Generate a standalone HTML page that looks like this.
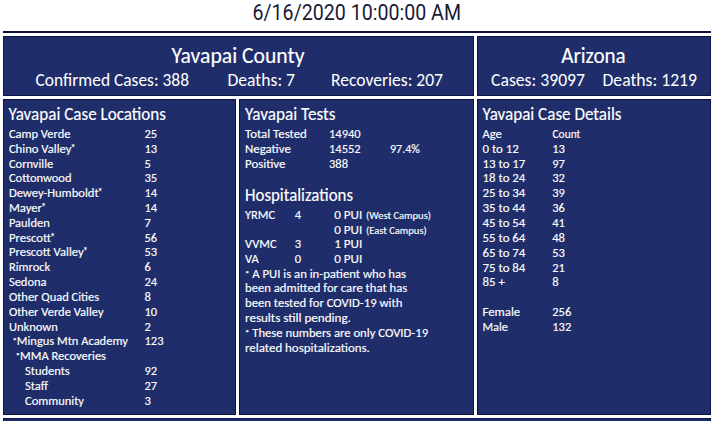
<!DOCTYPE html>
<html><head><meta charset="utf-8"><title>COVID-19 Yavapai County</title>
<style>
html,body{margin:0;padding:0;background:#ffffff;width:715px;height:421px;overflow:hidden}
svg{display:block}
text{font-family:Carlito, 'Liberation Sans', sans-serif}
</style></head>
<body>
<svg width="715" height="421" viewBox="0 0 715 421">
<rect x="0" y="0" width="715" height="421" fill="#ffffff"/>
<rect x="3" y="31" width="708" height="2" fill="#0e1238"/>
<rect x="3" y="36" width="471" height="60" fill="#0c1444"/>
<rect x="4" y="37" width="469" height="58" fill="#1f2e6b"/>
<rect x="477" y="36" width="234" height="60" fill="#0c1444"/>
<rect x="478" y="37" width="232" height="58" fill="#1f2e6b"/>
<rect x="3" y="99" width="233" height="316" fill="#0c1444"/>
<rect x="4" y="100" width="231" height="314" fill="#1f2e6b"/>
<rect x="239" y="99" width="235" height="316" fill="#0c1444"/>
<rect x="240" y="100" width="233" height="314" fill="#1f2e6b"/>
<rect x="477" y="99" width="234" height="316" fill="#0c1444"/>
<rect x="478" y="100" width="232" height="314" fill="#1f2e6b"/>
<rect x="3" y="418" width="708" height="10" fill="#0c1444"/>
<rect x="4" y="419" width="706" height="8" fill="#1f2e6b"/>
<text x="252.5" y="20" style="font-family:Roboto, 'Liberation Sans', sans-serif" font-size="21.3" fill="#171b36" textLength="208.5" lengthAdjust="spacingAndGlyphs">6/16/2020 10:00:00 AM</text>
<text x="171.5" y="62.5" font-size="22.5" fill="#ffffff" stroke="#ffffff" stroke-width="0.15" textLength="133" lengthAdjust="spacingAndGlyphs">Yavapai County</text>
<text x="35.5" y="85.5" font-size="18.5" fill="#ffffff" textLength="153.5" lengthAdjust="spacingAndGlyphs">Confirmed Cases: 388</text>
<text x="227.5" y="85.5" font-size="18.5" fill="#ffffff" textLength="67.5" lengthAdjust="spacingAndGlyphs">Deaths: 7</text>
<text x="331" y="85.5" font-size="18.5" fill="#ffffff" textLength="112" lengthAdjust="spacingAndGlyphs">Recoveries: 207</text>
<text x="561.2" y="62.6" font-size="22" fill="#ffffff" stroke="#ffffff" stroke-width="0.15" textLength="64.5" lengthAdjust="spacingAndGlyphs">Arizona</text>
<text x="491" y="85.5" font-size="18.5" fill="#ffffff" textLength="94" lengthAdjust="spacingAndGlyphs">Cases: 39097</text>
<text x="602.5" y="85.5" font-size="18.5" fill="#ffffff" textLength="94.5" lengthAdjust="spacingAndGlyphs">Deaths: 1219</text>
<text x="8.5" y="119.8" font-size="19" fill="#ffffff" stroke="#ffffff" stroke-width="0.15" textLength="157.5" lengthAdjust="spacingAndGlyphs">Yavapai Case Locations</text>
<text x="8.9" y="137.9" font-size="13" fill="#ffffff" stroke="#ffffff" stroke-width="0.15" textLength="61.6" lengthAdjust="spacingAndGlyphs">Camp Verde</text>
<text x="144.5" y="137.9" font-size="13" fill="#ffffff" stroke="#ffffff" stroke-width="0.15" textLength="12.66" lengthAdjust="spacingAndGlyphs">25</text>
<text x="8.9" y="152.72" font-size="13" fill="#ffffff" stroke="#ffffff" stroke-width="0.15" textLength="66.47" lengthAdjust="spacingAndGlyphs">Chino Valley<tspan font-size="9.5" dx="-0.8" baseline-shift="2.5">*</tspan></text>
<text x="144.5" y="152.72" font-size="13" fill="#ffffff" stroke="#ffffff" stroke-width="0.15" textLength="12.66" lengthAdjust="spacingAndGlyphs">13</text>
<text x="8.9" y="167.53" font-size="13" fill="#ffffff" stroke="#ffffff" stroke-width="0.15" textLength="44.38" lengthAdjust="spacingAndGlyphs">Cornville</text>
<text x="144.5" y="167.53" font-size="13" fill="#ffffff" stroke="#ffffff" stroke-width="0.15" textLength="6.33" lengthAdjust="spacingAndGlyphs">5</text>
<text x="8.9" y="182.34" font-size="13" fill="#ffffff" stroke="#ffffff" stroke-width="0.15" textLength="62.61" lengthAdjust="spacingAndGlyphs">Cottonwood</text>
<text x="144.5" y="182.34" font-size="13" fill="#ffffff" stroke="#ffffff" stroke-width="0.15" textLength="12.66" lengthAdjust="spacingAndGlyphs">35</text>
<text x="8.9" y="197.16" font-size="13" fill="#ffffff" stroke="#ffffff" stroke-width="0.15" textLength="93.55" lengthAdjust="spacingAndGlyphs">Dewey-Humboldt<tspan font-size="9.5" dx="-0.8" baseline-shift="2.5">*</tspan></text>
<text x="144.5" y="197.16" font-size="13" fill="#ffffff" stroke="#ffffff" stroke-width="0.15" textLength="12.66" lengthAdjust="spacingAndGlyphs">14</text>
<text x="8.9" y="211.98" font-size="13" fill="#ffffff" stroke="#ffffff" stroke-width="0.15" textLength="37.02" lengthAdjust="spacingAndGlyphs">Mayer<tspan font-size="9.5" dx="-0.8" baseline-shift="2.5">*</tspan></text>
<text x="144.5" y="211.98" font-size="13" fill="#ffffff" stroke="#ffffff" stroke-width="0.15" textLength="12.66" lengthAdjust="spacingAndGlyphs">14</text>
<text x="8.9" y="226.79" font-size="13" fill="#ffffff" stroke="#ffffff" stroke-width="0.15" textLength="40.91" lengthAdjust="spacingAndGlyphs">Paulden</text>
<text x="144.5" y="226.79" font-size="13" fill="#ffffff" stroke="#ffffff" stroke-width="0.15" textLength="6.33" lengthAdjust="spacingAndGlyphs">7</text>
<text x="8.9" y="241.61" font-size="13" fill="#ffffff" stroke="#ffffff" stroke-width="0.15" textLength="45.95" lengthAdjust="spacingAndGlyphs">Prescott<tspan font-size="9.5" dx="-0.8" baseline-shift="2.5">*</tspan></text>
<text x="144.5" y="241.61" font-size="13" fill="#ffffff" stroke="#ffffff" stroke-width="0.15" textLength="12.66" lengthAdjust="spacingAndGlyphs">56</text>
<text x="8.9" y="256.42" font-size="13" fill="#ffffff" stroke="#ffffff" stroke-width="0.15" textLength="78.64" lengthAdjust="spacingAndGlyphs">Prescott Valley<tspan font-size="9.5" dx="-0.8" baseline-shift="2.5">*</tspan></text>
<text x="144.5" y="256.42" font-size="13" fill="#ffffff" stroke="#ffffff" stroke-width="0.15" textLength="12.66" lengthAdjust="spacingAndGlyphs">53</text>
<text x="8.9" y="271.24" font-size="13" fill="#ffffff" stroke="#ffffff" stroke-width="0.15" textLength="41.3" lengthAdjust="spacingAndGlyphs">Rimrock</text>
<text x="144.5" y="271.24" font-size="13" fill="#ffffff" stroke="#ffffff" stroke-width="0.15" textLength="6.33" lengthAdjust="spacingAndGlyphs">6</text>
<text x="8.9" y="286.05" font-size="13" fill="#ffffff" stroke="#ffffff" stroke-width="0.15" textLength="37.62" lengthAdjust="spacingAndGlyphs">Sedona</text>
<text x="144.5" y="286.05" font-size="13" fill="#ffffff" stroke="#ffffff" stroke-width="0.15" textLength="12.66" lengthAdjust="spacingAndGlyphs">24</text>
<text x="8.9" y="300.87" font-size="13" fill="#ffffff" stroke="#ffffff" stroke-width="0.15" textLength="90.25" lengthAdjust="spacingAndGlyphs">Other Quad Cities</text>
<text x="144.5" y="300.87" font-size="13" fill="#ffffff" stroke="#ffffff" stroke-width="0.15" textLength="6.33" lengthAdjust="spacingAndGlyphs">8</text>
<text x="8.9" y="315.68" font-size="13" fill="#ffffff" stroke="#ffffff" stroke-width="0.15" textLength="94.69" lengthAdjust="spacingAndGlyphs">Other Verde Valley</text>
<text x="144.5" y="315.68" font-size="13" fill="#ffffff" stroke="#ffffff" stroke-width="0.15" textLength="12.66" lengthAdjust="spacingAndGlyphs">10</text>
<text x="8.9" y="330.5" font-size="13" fill="#ffffff" stroke="#ffffff" stroke-width="0.15" textLength="48.81" lengthAdjust="spacingAndGlyphs">Unknown</text>
<text x="144.5" y="330.5" font-size="13" fill="#ffffff" stroke="#ffffff" stroke-width="0.15" textLength="6.33" lengthAdjust="spacingAndGlyphs">2</text>
<text x="12.5" y="345.31" font-size="13" fill="#ffffff" stroke="#ffffff" stroke-width="0.15" textLength="115.29" lengthAdjust="spacingAndGlyphs"><tspan font-size="9" baseline-shift="1.5">*</tspan>Mingus Mtn Academy</text>
<text x="144.5" y="345.31" font-size="13" fill="#ffffff" stroke="#ffffff" stroke-width="0.15" textLength="18.99" lengthAdjust="spacingAndGlyphs">123</text>
<text x="15.8" y="360.12" font-size="13" fill="#ffffff" stroke="#ffffff" stroke-width="0.15" textLength="90.19" lengthAdjust="spacingAndGlyphs"><tspan font-size="9" baseline-shift="1.5">*</tspan>MMA Recoveries</text>
<text x="25" y="374.94" font-size="13" fill="#ffffff" stroke="#ffffff" stroke-width="0.15" textLength="44.74" lengthAdjust="spacingAndGlyphs">Students</text>
<text x="144.5" y="374.94" font-size="13" fill="#ffffff" stroke="#ffffff" stroke-width="0.15" textLength="12.66" lengthAdjust="spacingAndGlyphs">92</text>
<text x="25" y="389.75" font-size="13" fill="#ffffff" stroke="#ffffff" stroke-width="0.15" textLength="22.95" lengthAdjust="spacingAndGlyphs">Staff</text>
<text x="144.5" y="389.75" font-size="13" fill="#ffffff" stroke="#ffffff" stroke-width="0.15" textLength="12.66" lengthAdjust="spacingAndGlyphs">27</text>
<text x="25" y="404.57" font-size="13" fill="#ffffff" stroke="#ffffff" stroke-width="0.15" textLength="58.99" lengthAdjust="spacingAndGlyphs">Community</text>
<text x="144.5" y="404.57" font-size="13" fill="#ffffff" stroke="#ffffff" stroke-width="0.15" textLength="6.33" lengthAdjust="spacingAndGlyphs">3</text>
<text x="245" y="119.8" font-size="19" fill="#ffffff" stroke="#ffffff" stroke-width="0.15" textLength="90.5" lengthAdjust="spacingAndGlyphs">Yavapai Tests</text>
<text x="245" y="138.2" font-size="13" fill="#ffffff" stroke="#ffffff" stroke-width="0.15" textLength="61.86" lengthAdjust="spacingAndGlyphs">Total Tested</text>
<text x="329" y="138.2" font-size="13" fill="#ffffff" stroke="#ffffff" stroke-width="0.15" textLength="31.63" lengthAdjust="spacingAndGlyphs">14940</text>
<text x="245" y="153.05" font-size="13" fill="#ffffff" stroke="#ffffff" stroke-width="0.15" textLength="45.85" lengthAdjust="spacingAndGlyphs">Negative</text>
<text x="329" y="153.05" font-size="13" fill="#ffffff" stroke="#ffffff" stroke-width="0.15" textLength="31.63" lengthAdjust="spacingAndGlyphs">14552</text>
<text x="245" y="167.9" font-size="13" fill="#ffffff" stroke="#ffffff" stroke-width="0.15" textLength="40.44" lengthAdjust="spacingAndGlyphs">Positive</text>
<text x="329" y="167.9" font-size="13" fill="#ffffff" stroke="#ffffff" stroke-width="0.15" textLength="18.99" lengthAdjust="spacingAndGlyphs">388</text>
<text x="390" y="153.05" font-size="13" fill="#ffffff" stroke="#ffffff" stroke-width="0.15" textLength="29.76" lengthAdjust="spacingAndGlyphs">97.4%</text>
<text x="245" y="200.5" font-size="18.5" fill="#ffffff" stroke="#ffffff" stroke-width="0.15" textLength="108" lengthAdjust="spacingAndGlyphs">Hospitalizations</text>
<text x="245" y="219.2" font-size="13" fill="#ffffff" stroke="#ffffff" stroke-width="0.15" textLength="30.2" lengthAdjust="spacingAndGlyphs">YRMC</text>
<text x="294.8" y="219.2" font-size="13" fill="#ffffff" stroke="#ffffff" stroke-width="0.15" textLength="6.33" lengthAdjust="spacingAndGlyphs">4</text>
<text x="334.2" y="219.2" font-size="13" fill="#ffffff" stroke="#ffffff" stroke-width="0.15" textLength="28.15" lengthAdjust="spacingAndGlyphs">0 PUI</text>
<text x="366" y="219.2" font-size="11" fill="#ffffff" stroke="#ffffff" stroke-width="0.15" textLength="64.97" lengthAdjust="spacingAndGlyphs">(West Campus)</text>
<text x="334.2" y="233.7" font-size="13" fill="#ffffff" stroke="#ffffff" stroke-width="0.15" textLength="28.15" lengthAdjust="spacingAndGlyphs">0 PUI</text>
<text x="366" y="233.7" font-size="11" fill="#ffffff" stroke="#ffffff" stroke-width="0.15" textLength="60.73" lengthAdjust="spacingAndGlyphs">(East Campus)</text>
<text x="245" y="248.2" font-size="13" fill="#ffffff" stroke="#ffffff" stroke-width="0.15" textLength="31.54" lengthAdjust="spacingAndGlyphs">VVMC</text>
<text x="294.8" y="248.2" font-size="13" fill="#ffffff" stroke="#ffffff" stroke-width="0.15" textLength="6.33" lengthAdjust="spacingAndGlyphs">3</text>
<text x="334.2" y="248.2" font-size="13" fill="#ffffff" stroke="#ffffff" stroke-width="0.15" textLength="28.15" lengthAdjust="spacingAndGlyphs">1 PUI</text>
<text x="245" y="262.7" font-size="13" fill="#ffffff" stroke="#ffffff" stroke-width="0.15" textLength="13.72" lengthAdjust="spacingAndGlyphs">VA</text>
<text x="294.8" y="262.7" font-size="13" fill="#ffffff" stroke="#ffffff" stroke-width="0.15" textLength="6.33" lengthAdjust="spacingAndGlyphs">0</text>
<text x="334.2" y="262.7" font-size="13" fill="#ffffff" stroke="#ffffff" stroke-width="0.15" textLength="28.15" lengthAdjust="spacingAndGlyphs">0 PUI</text>
<text x="245" y="277.5" font-size="13" fill="#ffffff" stroke="#ffffff" stroke-width="0.15" textLength="161.05" lengthAdjust="spacingAndGlyphs"><tspan font-size="9" baseline-shift="1.5">*</tspan> A PUI is an in-patient who has</text>
<text x="245" y="292.3" font-size="13" fill="#ffffff" stroke="#ffffff" stroke-width="0.15" textLength="162.28" lengthAdjust="spacingAndGlyphs">been admitted for care that has</text>
<text x="245" y="307.1" font-size="13" fill="#ffffff" stroke="#ffffff" stroke-width="0.15" textLength="157.4" lengthAdjust="spacingAndGlyphs">been tested for COVID-19 with</text>
<text x="245" y="321.9" font-size="13" fill="#ffffff" stroke="#ffffff" stroke-width="0.15" textLength="105.9" lengthAdjust="spacingAndGlyphs">results still pending.</text>
<text x="245" y="336.7" font-size="13" fill="#ffffff" stroke="#ffffff" stroke-width="0.15" textLength="183.1" lengthAdjust="spacingAndGlyphs"><tspan font-size="9" baseline-shift="1.5">*</tspan> These numbers are only COVID-19</text>
<text x="245" y="351.5" font-size="13" fill="#ffffff" stroke="#ffffff" stroke-width="0.15" textLength="124.79" lengthAdjust="spacingAndGlyphs">related hospitalizations.</text>
<text x="482.5" y="120" font-size="19" fill="#ffffff" stroke="#ffffff" stroke-width="0.15" textLength="139" lengthAdjust="spacingAndGlyphs">Yavapai Case Details</text>
<text x="482.5" y="137.6" font-size="13" fill="#ffffff" stroke="#ffffff" stroke-width="0.15" textLength="19.21" lengthAdjust="spacingAndGlyphs">Age</text>
<text x="552.5" y="137.6" font-size="13" fill="#ffffff" stroke="#ffffff" stroke-width="0.15" textLength="27.89" lengthAdjust="spacingAndGlyphs">Count</text>
<text x="482.5" y="152.7" font-size="13" fill="#ffffff" stroke="#ffffff" stroke-width="0.15" textLength="36.37" lengthAdjust="spacingAndGlyphs">0 to 12</text>
<text x="552.3" y="152.7" font-size="13" fill="#ffffff" stroke="#ffffff" stroke-width="0.15" textLength="12.66" lengthAdjust="spacingAndGlyphs">13</text>
<text x="482.5" y="167.55" font-size="13" fill="#ffffff" stroke="#ffffff" stroke-width="0.15" textLength="42.89" lengthAdjust="spacingAndGlyphs">13 to 17</text>
<text x="552.3" y="167.55" font-size="13" fill="#ffffff" stroke="#ffffff" stroke-width="0.15" textLength="12.66" lengthAdjust="spacingAndGlyphs">97</text>
<text x="482.5" y="182.4" font-size="13" fill="#ffffff" stroke="#ffffff" stroke-width="0.15" textLength="42.89" lengthAdjust="spacingAndGlyphs">18 to 24</text>
<text x="552.3" y="182.4" font-size="13" fill="#ffffff" stroke="#ffffff" stroke-width="0.15" textLength="12.66" lengthAdjust="spacingAndGlyphs">32</text>
<text x="482.5" y="197.25" font-size="13" fill="#ffffff" stroke="#ffffff" stroke-width="0.15" textLength="42.89" lengthAdjust="spacingAndGlyphs">25 to 34</text>
<text x="552.3" y="197.25" font-size="13" fill="#ffffff" stroke="#ffffff" stroke-width="0.15" textLength="12.66" lengthAdjust="spacingAndGlyphs">39</text>
<text x="482.5" y="212.1" font-size="13" fill="#ffffff" stroke="#ffffff" stroke-width="0.15" textLength="42.89" lengthAdjust="spacingAndGlyphs">35 to 44</text>
<text x="552.3" y="212.1" font-size="13" fill="#ffffff" stroke="#ffffff" stroke-width="0.15" textLength="12.66" lengthAdjust="spacingAndGlyphs">36</text>
<text x="482.5" y="226.95" font-size="13" fill="#ffffff" stroke="#ffffff" stroke-width="0.15" textLength="42.89" lengthAdjust="spacingAndGlyphs">45 to 54</text>
<text x="552.3" y="226.95" font-size="13" fill="#ffffff" stroke="#ffffff" stroke-width="0.15" textLength="12.66" lengthAdjust="spacingAndGlyphs">41</text>
<text x="482.5" y="241.8" font-size="13" fill="#ffffff" stroke="#ffffff" stroke-width="0.15" textLength="42.89" lengthAdjust="spacingAndGlyphs">55 to 64</text>
<text x="552.3" y="241.8" font-size="13" fill="#ffffff" stroke="#ffffff" stroke-width="0.15" textLength="12.66" lengthAdjust="spacingAndGlyphs">48</text>
<text x="482.5" y="256.65" font-size="13" fill="#ffffff" stroke="#ffffff" stroke-width="0.15" textLength="42.89" lengthAdjust="spacingAndGlyphs">65 to 74</text>
<text x="552.3" y="256.65" font-size="13" fill="#ffffff" stroke="#ffffff" stroke-width="0.15" textLength="12.66" lengthAdjust="spacingAndGlyphs">53</text>
<text x="482.5" y="271.5" font-size="13" fill="#ffffff" stroke="#ffffff" stroke-width="0.15" textLength="42.89" lengthAdjust="spacingAndGlyphs">75 to 84</text>
<text x="552.3" y="271.5" font-size="13" fill="#ffffff" stroke="#ffffff" stroke-width="0.15" textLength="12.66" lengthAdjust="spacingAndGlyphs">21</text>
<text x="482.5" y="286.35" font-size="13" fill="#ffffff" stroke="#ffffff" stroke-width="0.15" textLength="22.37" lengthAdjust="spacingAndGlyphs">85 +</text>
<text x="552.3" y="286.35" font-size="13" fill="#ffffff" stroke="#ffffff" stroke-width="0.15" textLength="6.33" lengthAdjust="spacingAndGlyphs">8</text>
<text x="482.5" y="316.05" font-size="13" fill="#ffffff" stroke="#ffffff" stroke-width="0.15" textLength="37.75" lengthAdjust="spacingAndGlyphs">Female</text>
<text x="552.3" y="316.05" font-size="13" fill="#ffffff" stroke="#ffffff" stroke-width="0.15" textLength="18.99" lengthAdjust="spacingAndGlyphs">256</text>
<text x="482.5" y="330.9" font-size="13" fill="#ffffff" stroke="#ffffff" stroke-width="0.15" textLength="25.46" lengthAdjust="spacingAndGlyphs">Male</text>
<text x="552.3" y="330.9" font-size="13" fill="#ffffff" stroke="#ffffff" stroke-width="0.15" textLength="18.99" lengthAdjust="spacingAndGlyphs">132</text>
</svg>
</body></html>
